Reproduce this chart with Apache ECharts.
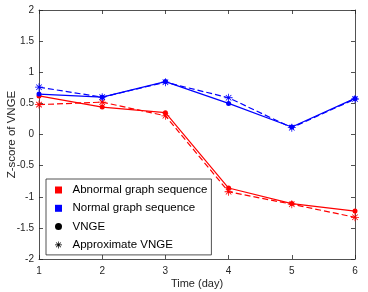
<!DOCTYPE html>
<html>
<head>
<meta charset="utf-8">
<script src="https://cdn.jsdelivr.net/npm/echarts@6/dist/echarts.min.js"></script>
<style>html,body{margin:0;padding:0;background:#fff;}#c{width:368px;height:292px;}</style>
</head>
<body>
<div id="c"></div>
<script>
const days = [1, 2, 3, 4, 5, 6];
const yTicks = [-2, -1.5, -1, -0.5, 0, 0.5, 1, 1.5, 2];
const abnormalVNGE = [0.62, 0.44, 0.35, -0.86, -1.11, -1.23];
const abnormalApprox = [0.48, 0.52, 0.30, -0.92, -1.12, -1.33];
const normalVNGE = [0.65, 0.60, 0.85, 0.50, 0.12, 0.58];
const normalApprox = [0.76, 0.60, 0.84, 0.59, 0.11, 0.57];
const legendNames = ['Abnormal graph sequence', 'Normal graph sequence', 'VNGE', 'Approximate VNGE'];

const asterisk = 'path://M4.5 0 L5.5 0 L5.5 10 L4.5 10 Z M0 4.5 L10 4.5 L10 5.5 L0 5.5 Z M1.2 1.9 L1.9 1.2 L8.8 8.1 L8.1 8.8 Z M8.1 1.2 L8.8 1.9 L1.9 8.8 L1.2 8.1 Z';
const square = 'path://M0 0 L10 0 L10 10 L0 10 Z';

function pairs(arr) { return days.map((d, i) => [d, arr[i]]); }

const font = 'Liberation Sans, Arial, sans-serif';
const chart = echarts.init(document.getElementById('c'));

function lineSeries(name, data, color, dashed, symbol, size) {
  return {
    name: name, type: 'line', data: pairs(data), xAxisIndex: 0, yAxisIndex: 0,
    symbol: symbol, symbolSize: size, showSymbol: true,
    lineStyle: { color: color, width: 1.2, type: dashed ? [6, 3] : 'solid' },
    itemStyle: { color: color },
    emphasis: { disabled: true }, animation: false, z: 3
  };
}

const series = [
  lineSeries('VNGE', abnormalVNGE, '#ff0000', false, 'circle', 5),
  lineSeries('Approximate VNGE', abnormalApprox, '#ff0000', true, asterisk, 8),
  lineSeries('VNGE', normalVNGE, '#0000ff', false, 'circle', 5),
  lineSeries('Approximate VNGE', normalApprox, '#0000ff', true, asterisk, 8),
  { name: legendNames[0], type: 'line', data: [], itemStyle: { color: '#ff0000' } },
  { name: legendNames[1], type: 'line', data: [], itemStyle: { color: '#0000ff' } },
  { name: 'VNGE', type: 'line', data: [], itemStyle: { color: '#000' } },
  { name: 'Approximate VNGE', type: 'line', data: [], itemStyle: { color: '#000' } }
];

const axisLine = { show: true, onZero: false, lineStyle: { color: '#262626', width: 0.8 } };
const tickStyle = { show: true, inside: true, length: 4, lineStyle: { color: '#262626', width: 0.8 } };

chart.setOption({
  animation: false,
  backgroundColor: '#fff',
  grid: { left: 39, right: 13, top: 10, bottom: 33, containLabel: false, outerBoundsMode: 'none' },
  legend: {
    orient: 'vertical', left: 46, top: 179,
    padding: [5, 4, 4, 9],
    itemGap: 6.3, itemWidth: 18, itemHeight: 7,
    backgroundColor: '#fff', borderColor: '#262626', borderWidth: 0.8,
    textStyle: { fontFamily: font, fontSize: 11.5, color: '#000' },
    selectedMode: false,
    data: [
      { name: legendNames[0], icon: square },
      { name: legendNames[1], icon: square },
      { name: legendNames[2], icon: 'circle', itemStyle: { color: '#000' } },
      { name: legendNames[3], icon: asterisk, itemStyle: { color: '#000' } }
    ]
  },
  xAxis: [
    {
      type: 'value', min: 1, max: 6, interval: 1, position: 'bottom',
      name: 'Time (day)', nameLocation: 'middle', nameGap: 19, nameMoveOverlap: false,
      nameTextStyle: { fontFamily: font, fontSize: 11, color: '#262626' },
      axisLine: axisLine, axisTick: tickStyle, splitLine: { show: false },
      axisLabel: { fontFamily: font, fontSize: 10, color: '#262626', margin: 7 }
    },
    {
      type: 'value', min: 1, max: 6, interval: 1, position: 'top',
      axisLine: axisLine, axisTick: tickStyle, splitLine: { show: false },
      axisLabel: { show: false }
    }
  ],
  yAxis: [
    {
      type: 'value', min: yTicks[0], max: yTicks[yTicks.length - 1], interval: 0.5, position: 'left',
      name: 'Z-score of VNGE', nameLocation: 'middle', nameGap: 21, nameMoveOverlap: false,
      nameTextStyle: { fontFamily: font, fontSize: 11.5, color: '#262626' },
      axisLine: axisLine, axisTick: tickStyle, splitLine: { show: false },
      axisLabel: { fontFamily: font, fontSize: 10, color: '#262626', margin: 5 }
    },
    {
      type: 'value', min: yTicks[0], max: yTicks[yTicks.length - 1], interval: 0.5, position: 'right',
      axisLine: axisLine, axisTick: tickStyle, splitLine: { show: false },
      axisLabel: { show: false }
    }
  ],
  series: series
});
</script>
</body>
</html>
